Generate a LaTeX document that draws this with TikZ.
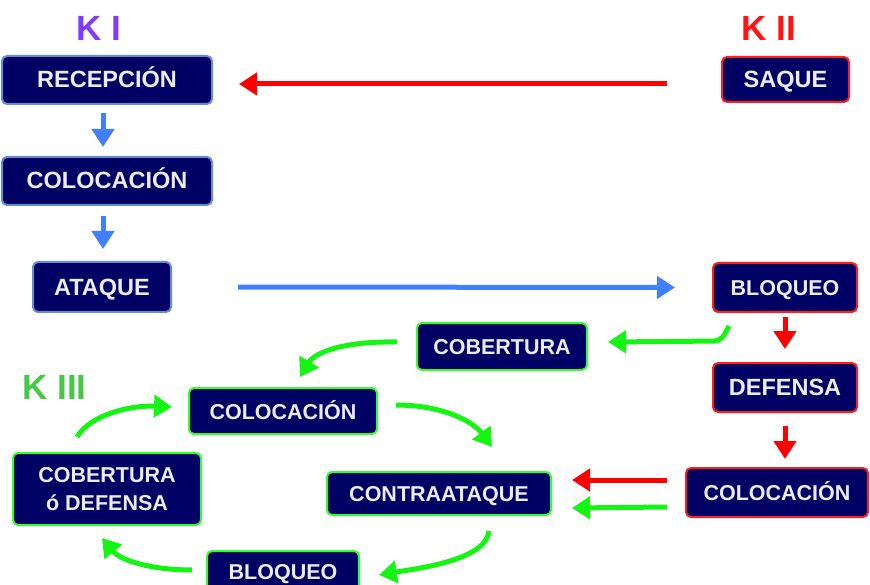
\documentclass[tikz,border=0pt]{standalone}
\usepackage{fontspec}
\setmainfont{Liberation Sans}
\usetikzlibrary{arrows.meta,calc}
\definecolor{navy}{RGB}{0,0,100}
\definecolor{boxtext}{RGB}{236,236,245}
\definecolor{bordblue}{RGB}{100,140,210}
\definecolor{bordred}{RGB}{255,30,30}
\definecolor{bordgreen}{RGB}{50,255,50}
\definecolor{arrblue}{RGB}{64,128,255}
\definecolor{arrred}{RGB}{255,0,0}
\definecolor{arrgreen}{RGB}{20,245,20}
\definecolor{kone}{RGB}{127,60,255}
\definecolor{ktwo}{RGB}{255,20,20}
\definecolor{kthree}{RGB}{70,200,70}
\tikzset{
  box/.style={rounded corners=5pt, fill=navy, text=boxtext, line width=2pt,
    inner sep=0pt, text height=16pt, text depth=0pt, anchor=center},
  bb/.style={box, draw=bordblue},
  rb/.style={box, draw=bordred},
  gb/.style={box, draw=bordgreen},
  fbig/.style={font=\bfseries\fontsize{23.5}{28}\selectfont},
  fsmall/.style={font=\bfseries\fontsize{21.5}{28}\selectfont},
  klabel/.style={font=\bfseries\fontsize{35}{40}\selectfont, inner sep=0pt,
    text height=25pt, text depth=0pt, anchor=center},
  arr/.style={line width=5pt, -{Triangle[length=18pt,width=22pt]}},
  barr/.style={arr, draw=arrblue},
  rarr/.style={arr, draw=arrred},
  garr/.style={arr, draw=arrgreen},
}
\begin{document}
\begin{tikzpicture}[x=1pt,y=-1pt]
\useasboundingbox (0,0) rectangle (870,585);
\clip (0,0) rectangle (870,585);

% labels
\node[klabel, text=kone] (k1) at (99,28) {K I};
\node[klabel, text=ktwo] (k2) at (769,28.5) {K II};
\node[klabel, text=kthree] (k3) at (54.5,387) {K III};

% K I boxes
\node[bb, fbig, minimum width=210pt, minimum height=48pt] (rec) at (107,80) {RECEPCIÓN};
\node[bb, fbig, minimum width=210pt, minimum height=48pt] (col1) at (107,181) {COLOCACIÓN};
\node[bb, fbig, minimum width=138pt, minimum height=50pt] (ata) at (102,287) {ATAQUE};

% K II boxes
\node[rb, fbig, minimum width=127pt, minimum height=45pt] (saq) at (785.5,79.5) {SAQUE};
\node[rb, fsmall, minimum width=144pt, minimum height=49pt] (blo1) at (785,287.5) {BLOQUEO};
\node[rb, fbig, minimum width=144pt, minimum height=49pt] (def) at (785,387.5) {DEFENSA};
\node[rb, fsmall, minimum width=182pt, minimum height=49pt] (col2) at (777,492.5) {COLOCACIÓN};

% K III boxes
\node[gb, fsmall, minimum width=170pt, minimum height=47pt] (cob) at (502,346.5) {COBERTURA};
\node[gb, fsmall, minimum width=188pt, minimum height=46pt] (col3) at (283,411) {COLOCACIÓN};
\node[gb, fsmall, minimum width=188pt, minimum height=72pt, text height=, text depth=, align=center] (cod) at (107,489) {COBERTURA\\ó DEFENSA};
\node[gb, fsmall, minimum width=152pt, minimum height=40pt] (blo2) at (283,571) {BLOQUEO};
\node[gb, fsmall, minimum width=224pt, minimum height=43pt] (con) at (439,493.5) {CONTRAATAQUE};

% K I arrows
\draw[rarr] ($(saq.west)+(-54,4.5)$) -- ($(rec.east)+(26,4)$);
\draw[barr] ($(rec.south)+(-4,8)$) -- ($(col1.north)+(-4,-9)$);
\draw[barr] ($(col1.south)+(-4,10)$) -- ($(ata.north)+(1,-12)$);
\draw[barr] ($(ata.east)+(66,0)$) -- ($(blo1.west)+(-37,0)$);

% K II arrows
\draw[rarr] ($(blo1.south)+(0,4)$) -- ($(def.north)+(0,-13)$);
\draw[rarr] ($(def.south)+(0,13)$) -- ($(col2.north)+(8,-8)$);
\draw[rarr] ($(col2.west)+(-18,-12.5)$) -- ($(con.east)+(20,-13.5)$);
\draw[garr] ($(col2.west)+(-18,14.5)$) -- ($(con.east)+(20,14.5)$);
\draw[garr, rounded corners=7pt] ($(blo1.south west)+(17,13)$) -- ($(blo1.south west)+(9,28)$) -- ($(cob.east)+(20,-4.5)$);

% K III cycle
\draw[garr] ($(cob.west)+(-19,-4.5)$) .. controls (345,341) and (315,352) .. ($(col3.north)+(17,-10)$);
\draw[garr] ($(col3.east)+(18,-6)$) .. controls (440,405) and (472,420) .. ($(con.north)+(53,-24)$);
\draw[garr] ($(con.south)+(50,15)$) .. controls (486,560) and (420,568) .. ($(blo2.east)+(19,4)$);
\draw[garr] ($(blo2.west)+(-14,-1)$) .. controls (150,570) and (120,560) .. ($(cod.south)+(-5,12)$);
\draw[garr] ($(cod.north)+(-30,-15)$) .. controls (90,415) and (130,405) .. ($(col3.west)+(-16,-4)$);
\end{tikzpicture}
\end{document}
